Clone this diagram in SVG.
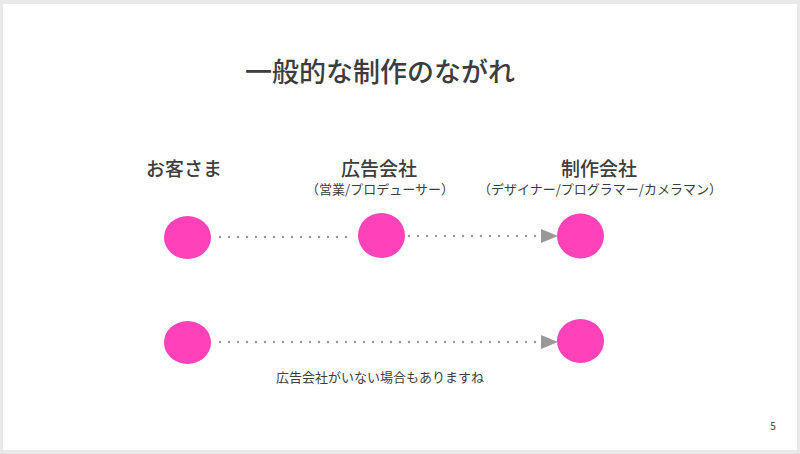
<svg xmlns="http://www.w3.org/2000/svg" width="800" height="454" viewBox="0 0 800 454">
<defs>
<style>
text{font-family:"Noto Sans CJK JP","Noto Sans CJK SC",sans-serif;fill:#3d3d3d}
.head{font-size:19px;font-weight:500;text-anchor:middle}
.sub{font-size:13px;text-anchor:middle}
.node{fill:#ff42ba}
.dot{stroke:#999;stroke-width:2.4;stroke-linecap:round;stroke-dasharray:0 9;fill:none}
</style>
<marker id="arr" markerWidth="18" markerHeight="14" refX="16" refY="7" orient="auto" markerUnits="userSpaceOnUse">
<path d="M0,0 L17,7 L0,14 Z" fill="#999"/>
</marker>
</defs>
<rect width="800" height="454" fill="#e9e9e9"/>
<rect x="3" y="4" width="794" height="446" fill="#fff"/>
<text x="380" y="82" font-size="27" font-weight="500" text-anchor="middle">一般的な制作のながれ</text>
<g id="connectors">
<line class="dot" x1="220" y1="237" x2="354" y2="237"/>
<line class="dot" x1="409" y1="236" x2="540" y2="236"/>
<path d="M540,236 L557,236" stroke="none" marker-end="url(#arr)"/>
<line class="dot" x1="220" y1="342" x2="540" y2="342"/>
<path d="M540,342 L557,342" stroke="none" marker-end="url(#arr)"/>
</g>
<g id="customer">
<text class="head" x="184" y="176">お客さま</text>
<ellipse class="node" cx="187.5" cy="237.5" rx="23.5" ry="21.5"/>
</g>
<g id="agency">
<text class="head" x="379" y="176">広告会社</text>
<text class="sub" x="380" y="194">（営業/プロデューサー）</text>
<ellipse class="node" cx="381.5" cy="235.5" rx="23.5" ry="22.5"/>
</g>
<g id="production">
<text class="head" x="599" y="176">制作会社</text>
<text class="sub" x="600" y="194">（デザイナー/プログラマー/カメラマン）</text>
<ellipse class="node" cx="580.5" cy="236" rx="23.5" ry="22.5"/>
</g>
<g id="customer2">
<ellipse class="node" cx="187.5" cy="342.5" rx="23.5" ry="21.5"/>
</g>
<g id="production2">
<ellipse class="node" cx="580.5" cy="341" rx="23.5" ry="22"/>
</g>
<text x="380" y="382" font-size="13" text-anchor="middle">広告会社がいない場合もありますね</text>
<text x="773" y="430" font-size="10" text-anchor="middle">5</text>
</svg>
